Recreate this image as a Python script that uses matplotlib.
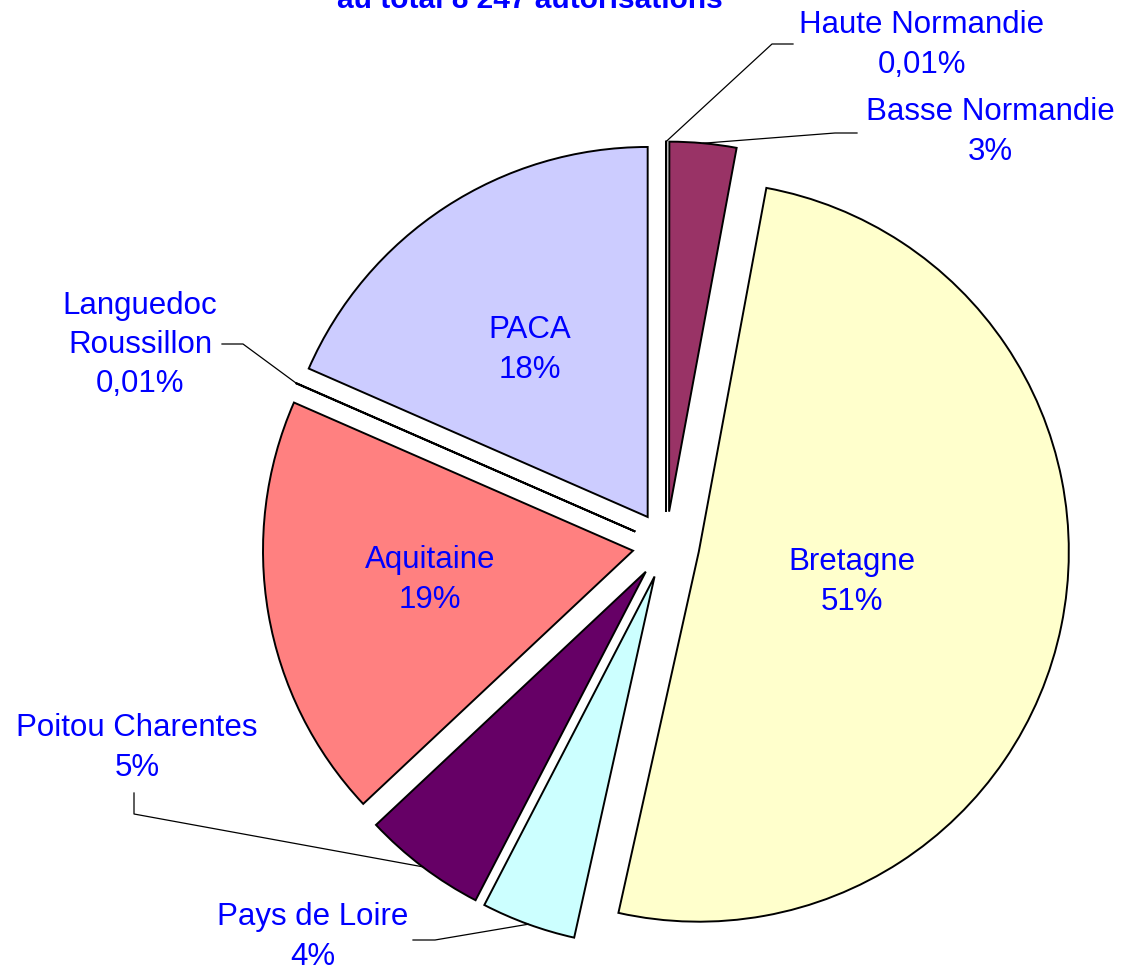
import numpy as np
import matplotlib
matplotlib.use("Agg")
import matplotlib.pyplot as plt

plt.rcParams['font.family'] = ['Liberation Sans', 'DejaVu Sans']

# autorisations par région (total 8 247)
regions = ['Haute Normandie', 'Basse Normandie', 'Bretagne', 'Pays de Loire',
           'Poitou Charentes', 'Aquitaine', 'Languedoc\nRoussillon', 'PACA']
autorisations = [1, 240, 4170, 340, 445, 1530, 1, 1520]
couleurs = ['#9999FF', '#993366', '#FFFFCC', '#CCFFFF',
            '#660066', '#FF8080', '#0066CC', '#CCCCFF']

# position des étiquettes (pixels) et points de renvoi des lignes
pos_etiq = [(922, 45), (990, 132), (852, 582), (313, 937),
            (137, 748), (430, 580), (140, 345), (530, 350)]
renvois = {0: [(793, 44), (772, 44)],
           1: [(857, 133), (835, 133)],
           3: [(413, 940), (435, 940)],
           4: [(134, 793), (134, 814)],
           6: [(222, 344), (243, 344)]}

W, H = 1122, 971
CX, CY, R_PX = 666, 545, 370


def px(x, y):
    return (x - CX) / R_PX, (CY - y) / R_PX


def fmt_pct(v, total):
    p = v / total * 100
    s = f"{p:.2f}" if p < 1 else f"{p:.0f}"
    return s.replace('.', ',') + '%'


total = sum(autorisations)

fig = plt.figure(figsize=(W / 100, H / 100), dpi=100)
ax = fig.add_axes([0, 0, 1, 1])

wedges, _ = ax.pie(autorisations, colors=couleurs, startangle=90,
                   counterclock=False, explode=[0.0905] * len(autorisations),
                   radius=1.0,
                   wedgeprops=dict(edgecolor='black', linewidth=1.4))

for i, (nom, v) in enumerate(zip(regions, autorisations)):
    x, y = px(*pos_etiq[i])
    ax.text(x, y, nom + '\n' + fmt_pct(v, total), color='#0000FF',
            fontsize=22.5, ha='center', va='center', multialignment='center',
            linespacing=1.41)

# lignes de renvoi vers les petites parts
for i, pts in renvois.items():
    w = wedges[i]
    a = np.deg2rad((w.theta1 + w.theta2) / 2)
    bx = w.center[0] + w.r * np.cos(a)
    by = w.center[1] + w.r * np.sin(a)
    xs = [px(*p)[0] for p in pts] + [bx]
    ys = [px(*p)[1] for p in pts] + [by]
    ax.plot(xs, ys, color='black', linewidth=0.9)

ax.set_xlim(-CX / R_PX, (W - CX) / R_PX)
ax.set_ylim(-(H - CY) / R_PX, CY / R_PX)
ax.set_aspect('auto')
ax.axis('off')

fig.text(530 / W, 1 - 8 / H, 'au total 8 247 autorisations', color='#0000FF',
         fontsize=21.5, fontweight='bold', ha='center', va='baseline')

fig.savefig('out.png', dpi=100, facecolor='white')
